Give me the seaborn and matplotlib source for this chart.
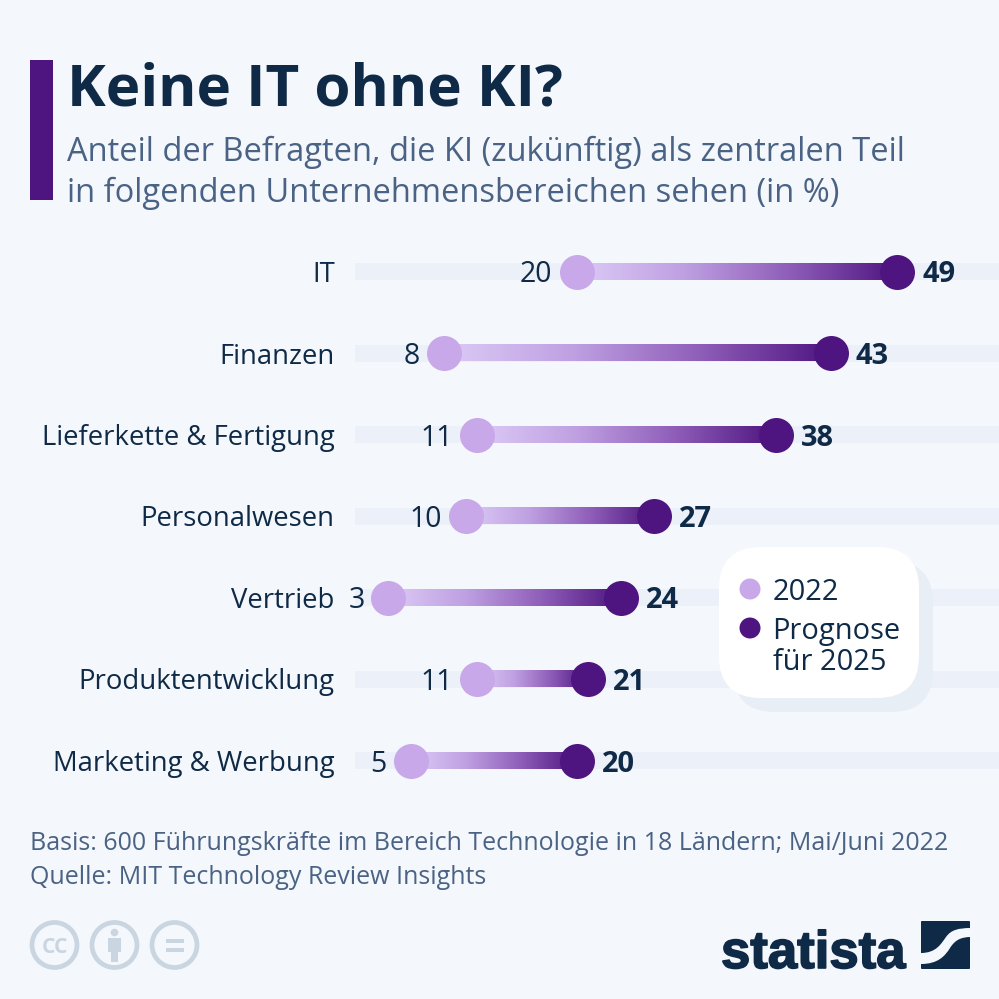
import numpy as np
import pandas as pd
import matplotlib
matplotlib.use("Agg")
import matplotlib.pyplot as plt
import matplotlib.patheffects as pe
from matplotlib import font_manager as fm
from matplotlib.colors import LinearSegmentedColormap
from matplotlib.patches import FancyBboxPatch, Circle, Rectangle, PathPatch
from matplotlib.path import Path
import seaborn as sns

categories = ["IT", "Finanzen", "Lieferkette & Fertigung", "Personalwesen",
              "Vertrieb", "Produktentwicklung", "Marketing & Werbung"]
values_2022 = [20, 8, 11, 10, 3, 11, 5]
values_2025 = [49, 43, 38, 27, 24, 21, 20]
axis_max = 58.2

BG = "#F4F7FB"; TRACK = "#ECF0F8"; LIGHT = "#C8A8E9"; DARK = "#4E1580"
INK = "#0F2A47"; SUB = "#4A6385"; ICON = "#C9D5E0"

sns.set_theme(style="white")
plt.rcParams["font.family"] = ["Open Sans", "DejaVu Sans"]

W = 999
px = lambda v: v * 0.72
fig = plt.figure(figsize=(9.99, 9.99), dpi=100, facecolor=BG)

# main chart axes: x=0 at 355 px, rows 81.5 px apart
ax = fig.add_axes([355.3 / W, 1 - 801.25 / W, (999 - 355.3) / W, (801.25 - 230.75) / W], facecolor="none")
df = pd.DataFrame({"cat": categories, "a": values_2022, "b": values_2025, "end": [axis_max] * len(categories)})
sns.barplot(data=df, x="end", y="cat", orient="h", color=TRACK, saturation=1, width=17 / 81.5,
            linewidth=0, edgecolor="none", ax=ax, zorder=1)

cmap = LinearSegmentedColormap.from_list("g", ["#DCCBF6", "#BFA0E2", "#8E5DB8", DARK])
grad = np.linspace(0, 1, 256).reshape(1, -1)
hh = 8.5 / 81.5
for i, (a, b) in enumerate(zip(values_2022, values_2025)):
    ax.imshow(grad, cmap=cmap, aspect="auto", extent=[a, b, i + hh, i - hh], zorder=2, interpolation="bilinear")

sns.scatterplot(data=df, x="a", y="cat", s=635, color=LIGHT, linewidth=0, ax=ax, zorder=3, clip_on=False)
sns.scatterplot(data=df, x="b", y="cat", s=635, color=DARK, linewidth=0, ax=ax, zorder=3, clip_on=False)

for i, (a, b) in enumerate(zip(values_2022, values_2025)):
    ax.annotate(str(a), (a, i), xytext=(px(-24), 0), textcoords="offset points", ha="right", va="center_baseline",
                fontsize=px(28.5), color=INK, zorder=4)
    ax.annotate(str(b), (b, i), xytext=(px(25), 0), textcoords="offset points", ha="left", va="center_baseline",
                fontsize=px(29), color=INK, fontweight="bold", zorder=4)

ax.set_xlim(0, axis_max)
ax.set_ylim(6.5, -0.5)
ax.set_xlabel(""); ax.set_ylabel("")
ax.set_xticks([])
ax.tick_params(axis="y", length=0, pad=px(20.5), labelsize=px(27.5), labelcolor=INK)
sns.despine(ax=ax, left=True, bottom=True, top=True, right=True)

# overlay in pixel coordinates for header, legend and footer
ov = fig.add_axes([0, 0, 1, 1], facecolor="none", zorder=5)
ov.set_xlim(0, W); ov.set_ylim(W, 0); ov.axis("off")

ov.add_patch(Rectangle((30, 60), 23, 140, color=DARK, lw=0))
ov.text(67, 83, "Keine IT ohne KI?", fontsize=px(58.4), fontweight="bold", color=INK, va="center_baseline")
ov.text(67, 148.5, "Anteil der Befragten, die KI (zukünftig) als zentralen Teil", fontsize=px(32.65), color=SUB, va="center_baseline")
ov.text(67, 189.5, "in folgenden Unternehmensbereichen sehen (in %)", fontsize=px(32.65), color=SUB, va="center_baseline")

# legend card
r = 42
ov.add_patch(FancyBboxPatch((733 + r, 561 + r), 200 - 2 * r, 151 - 2 * r, boxstyle=f"round,pad={r}", fc="#E8EEF6", ec="none"))
ov.add_patch(FancyBboxPatch((719 + r, 547 + r), 200 - 2 * r, 151 - 2 * r, boxstyle=f"round,pad={r}", fc="white", ec="none"))
ov.add_patch(Circle((750, 589), 10.5, fc=LIGHT, ec="none"))
ov.add_patch(Circle((750, 628), 10.5, fc=DARK, ec="none"))
ov.text(773, 588.5, "2022", fontsize=px(29), color=INK, va="center_baseline")
ov.text(772, 627.5, "Prognose", fontsize=px(29), color=INK, va="center_baseline")
ov.text(773, 658.5, "für 2025", fontsize=px(29), color=INK, va="center_baseline")

# footer
ov.text(30, 840, "Basis: 600 Führungskräfte im Bereich Technologie in 18 Ländern; Mai/Juni 2022", fontsize=px(25), color=SUB, va="center_baseline")
ov.text(30, 875, "Quelle: MIT Technology Review Insights", fontsize=px(25), color=SUB, va="center_baseline")

# licence icons
for cx in (54.5, 114.5, 174.5):
    ov.add_patch(Circle((cx, 945), 22.5, fc="none", ec=ICON, lw=3.4))
ov.text(54.5, 945, "CC", fontsize=px(21), fontweight="bold", color=ICON, ha="center", va="center_baseline")
ov.add_patch(Circle((114.5, 932.5), 3.8, fc=ICON, ec="none"))
ov.add_patch(Rectangle((108, 938), 13, 14, fc=ICON, ec="none"))
ov.add_patch(Rectangle((111, 950), 7, 12, fc=ICON, ec="none"))
ov.add_patch(Rectangle((166, 938.5), 18, 4.5, fc=ICON, ec="none"))
ov.add_patch(Rectangle((166, 947.5), 18, 4.5, fc=ICON, ec="none"))

# statista logo: real text fitted to the logo's width with the narrowest bold face on hand
names = {f.name for f in fm.fontManager.ttflist}
logo_font = "Liberation Sans Narrow" if "Liberation Sans Narrow" in names else "Liberation Sans"
logo = ov.text(721, 968, "statista", fontsize=40, fontweight="bold", color=INK, va="baseline", family=logo_font,
               path_effects=[pe.withStroke(linewidth=1.2, foreground=INK)])
fig.canvas.draw()
logo.set_fontsize(40 * 184 / logo.get_window_extent().width)

ov.add_patch(FancyBboxPatch((922, 922), 47, 46, boxstyle="round,pad=1", fc=INK, ec="none"))
band = Path([(921, 953), (936, 953), (941, 944), (946, 937), (951, 930), (958, 928), (971, 928),
             (971, 937), (961, 937), (955, 940), (950, 948), (945, 956), (938, 964), (921, 964), (921, 953)],
            [Path.MOVETO, Path.CURVE4, Path.CURVE4, Path.CURVE4, Path.CURVE4, Path.CURVE4, Path.CURVE4,
             Path.LINETO, Path.CURVE4, Path.CURVE4, Path.CURVE4, Path.CURVE4, Path.CURVE4, Path.CURVE4, Path.CLOSEPOLY])
ov.add_patch(PathPatch(band, fc=BG, ec="none"))

fig.savefig("out.png", dpi=100, facecolor=BG)
